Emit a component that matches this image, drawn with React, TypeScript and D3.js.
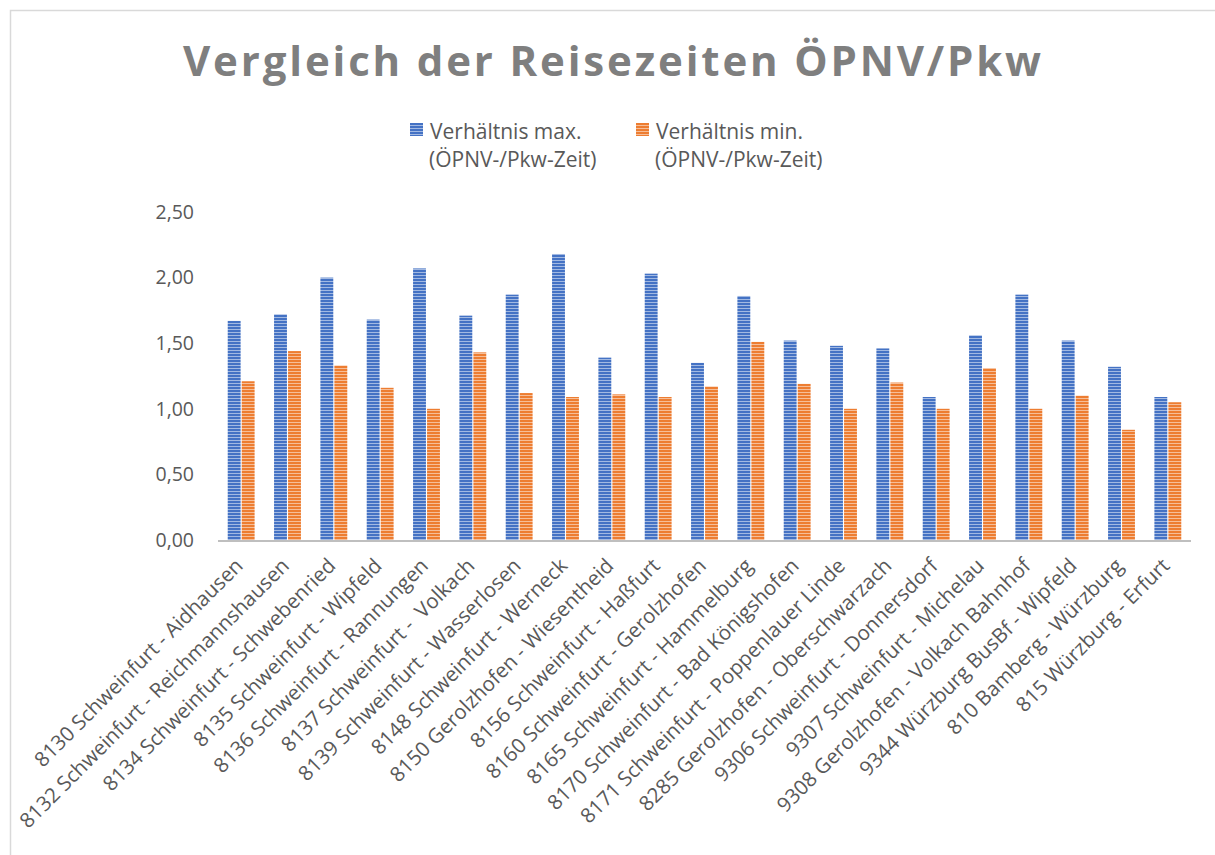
import * as d3 from 'd3'
import React, { useEffect, useRef } from 'react'

const categories = [
  '8130 Schweinfurt - Aidhausen',
  '8132 Schweinfurt - Reichmannshausen',
  '8134 Schweinfurt - Schwebenried',
  '8135 Schweinfurt - Wipfeld',
  '8136 Schweinfurt - Rannungen',
  '8137 Schweinfurt -  Volkach',
  '8139 Schweinfurt - Wasserlosen',
  '8148 Schweinfurt - Werneck',
  '8150 Gerolzhofen - Wiesentheid',
  '8156 Schweinfurt - Haßfurt',
  '8160 Schweinfurt - Gerolzhofen',
  '8165 Schweinfurt - Hammelburg',
  '8170 Schweinfurt - Bad Königshofen',
  '8171 Schweinfurt - Poppenlauer Linde',
  '8285 Gerolzhofen - Oberschwarzach',
  '9306 Schweinfurt - Donnersdorf',
  '9307 Schweinfurt - Michelau',
  '9308 Gerolzhofen - Volkach Bahnhof',
  '9344 Würzburg BusBf - Wipfeld',
  '810 Bamberg - Würzburg',
  '815 Würzburg - Erfurt',
]

const maxRatio = [1.67, 1.72, 2.0, 1.68, 2.07, 1.71, 1.87, 2.18, 1.39, 2.03, 1.35,
  1.86, 1.52, 1.48, 1.46, 1.09, 1.56, 1.87, 1.52, 1.32, 1.09]
const minRatio = [1.21, 1.44, 1.33, 1.16, 1.0, 1.43, 1.12, 1.09, 1.11, 1.09, 1.17,
  1.51, 1.19, 1.0, 1.2, 1.0, 1.31, 1.0, 1.1, 0.84, 1.05]

const seriesNames = ['max', 'min']
const legendLines = [
  ['Verhältnis max.', '(ÖPNV-/Pkw-Zeit)'],
  ['Verhältnis min.', '(ÖPNV-/Pkw-Zeit)'],
]
const yTicks = [0, 0.5, 1, 1.5, 2, 2.5]

const title = 'Vergleich der Reisezeiten ÖPNV/Pkw'

export default function App() {
  const ref = useRef<SVGSVGElement>(null)

  useEffect(() => {
    const svg = d3.select(ref.current)
    svg.selectAll('*').remove()

    const font = "'Open Sans', sans-serif"
    const textColor = '#595959'
    const colors = ['#4472C4', '#ED7D31']

    // stripe patterns like Excel's narrow horizontal fill
    const defs = svg.append('defs')
    seriesNames.forEach((s, i) => {
      const p = defs.append('pattern')
        .attr('id', 'stripe-' + s)
        .attr('patternUnits', 'userSpaceOnUse')
        .attr('width', 4)
        .attr('height', 3)
      p.append('rect').attr('width', 4).attr('height', 3).attr('fill', colors[i])
      p.append('rect').attr('y', 2).attr('width', 4).attr('height', 1)
        .attr('fill', '#fff').attr('opacity', 0.5)
    })

    svg.append('rect')
      .attr('x', 10.5).attr('y', 10.5)
      .attr('width', 1230).attr('height', 870)
      .attr('fill', '#fff')
      .attr('stroke', '#d9d9d9')
      .attr('stroke-width', 1.5)

    svg.append('text')
      .attr('x', 612).attr('y', 76)
      .attr('text-anchor', 'middle')
      .attr('font-family', font)
      .attr('font-weight', 'bold')
      .attr('font-size', 42)
      .attr('fill', '#7f7f7f')
      .attr('textLength', 858)
      .attr('lengthAdjust', 'spacing')
      .text(title)

    const x = d3.scaleBand()
      .domain(categories)
      .range([218, 1191])
      .paddingInner(0.42)
      .paddingOuter(0.21)

    const x1 = d3.scaleBand()
      .domain(seriesNames)
      .range([0, x.bandwidth()])
      .paddingInner(0.08)

    const y = d3.scaleLinear()
      .domain([0, 2.5])
      .range([540, 212])

    // y tick labels
    svg.append('g')
      .selectAll('text')
      .data(yTicks)
      .enter().append('text')
      .attr('x', 194)
      .attr('y', d => y(d))
      .attr('dy', '0.35em')
      .attr('text-anchor', 'end')
      .attr('font-family', font)
      .attr('font-size', 19.5)
      .attr('fill', textColor)
      .text(d => d3.format('.2f')(d).replace('.', ','))

    const data = categories.map((c, i) => ({ c, values: [maxRatio[i], minRatio[i]] }))

    const groups = svg.append('g')
      .selectAll('g')
      .data(data)
      .enter().append('g')
      .attr('transform', d => 'translate(' + x(d.c) + ',0)')

    groups.selectAll('rect')
      .data(d => d.values.map((v, i) => ({ s: seriesNames[i], v })))
      .enter().append('rect')
      .attr('x', d => x1(d.s))
      .attr('y', d => y(d.v))
      .attr('width', x1.bandwidth())
      .attr('height', d => y(0) - y(d.v))
      .attr('fill', d => 'url(#stripe-' + d.s + ')')

    svg.append('line')
      .attr('x1', 218).attr('x2', 1191)
      .attr('y1', y(0) + 1).attr('y2', y(0) + 1)
      .attr('stroke', '#bfbfbf')
      .attr('stroke-width', 2)

    // rotated category labels
    svg.append('g')
      .selectAll('text')
      .data(categories)
      .enter().append('text')
      .attr('transform', d => 'translate(' + (x(d)! + x.bandwidth() / 2 + 3) + ',567) rotate(-45)')
      .attr('text-anchor', 'end')
      .attr('font-family', font)
      .attr('font-size', 20.5)
      .attr('fill', textColor)
      .style('white-space', 'pre')
      .text(d => d)

    // legend
    const legendX = [410, 636]
    const legend = svg.append('g')
      .selectAll('g')
      .data(seriesNames)
      .enter().append('g')
      .attr('transform', (d, i) => 'translate(' + legendX[i] + ',0)')

    legend.append('rect')
      .attr('x', 0).attr('y', 123)
      .attr('width', 13).attr('height', 13)
      .attr('fill', d => 'url(#stripe-' + d + ')')

    legend.each(function (d, i) {
      const t = d3.select(this).append('text')
        .attr('font-family', font)
        .attr('font-size', 21)
        .attr('fill', textColor)
      legendLines[i].forEach((line, j) => {
        t.append('tspan')
          .attr('x', j === 0 ? 20 : 19)
          .attr('y', 139 + j * 28)
          .text(line)
      })
    })
  }, [])

  return (
    <svg
      ref={ref}
      width={1215}
      height={855}
      style={{ position: 'absolute', left: 0, top: 0 }}
    />
  )
}
